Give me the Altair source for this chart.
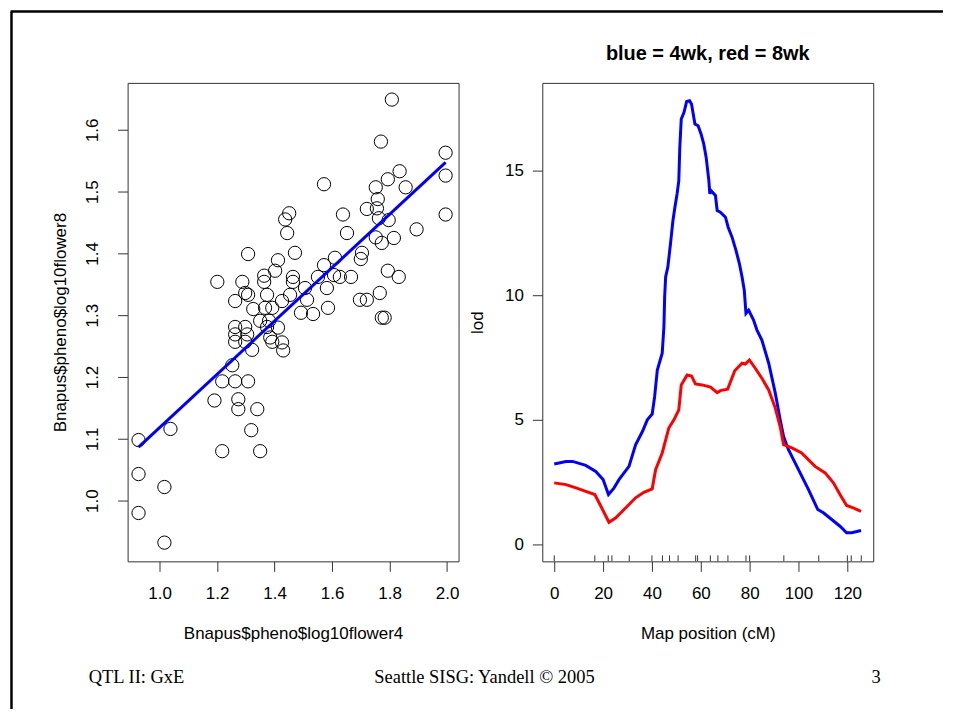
import altair as alt
import pandas as pd

# ---------------- data ----------------
flower4 = [1.808, 1.770, 1.995, 1.995, 1.835, 1.794, 1.752, 1.856, 1.572, 1.759,
           1.638, 1.721, 1.756, 1.797, 1.763, 1.995, 1.894, 1.652, 1.752, 1.815,
           1.773, 1.704, 1.700, 1.610, 1.572, 1.551, 1.607, 1.627, 1.666, 1.794,
           1.832, 1.582, 1.506, 1.513, 1.586, 1.766, 1.697, 1.721, 1.773, 1.783,
           1.492, 1.534,
           1.451, 1.437, 1.444, 1.308, 1.412, 1.471, 1.402, 1.364, 1.364, 1.464,
           1.464, 1.201, 1.288, 1.298, 1.308, 1.374, 1.263, 1.426, 1.454, 1.326,
           1.367, 1.392, 1.350, 1.381,
           1.263, 1.298, 1.374, 1.412, 1.263, 1.305, 1.263, 1.298, 1.322, 1.385,
           1.392, 1.426, 1.430, 1.253, 1.218, 1.263, 1.308, 1.191, 1.274, 1.274,
           1.340, 1.038, 1.319, 0.927, 1.218, 1.350, 0.927, 1.017, 0.927, 1.017]
flower8 = [1.649, 1.581, 1.563, 1.526, 1.533, 1.520, 1.507, 1.507, 1.512, 1.488,
           1.463, 1.472, 1.473, 1.454, 1.457, 1.463, 1.439, 1.433, 1.426, 1.425,
           1.417, 1.401, 1.391, 1.393, 1.381, 1.362, 1.365, 1.362, 1.362, 1.372,
           1.362, 1.344, 1.344, 1.325, 1.312, 1.336, 1.325, 1.325, 1.296, 1.296,
           1.304, 1.302,
           1.465, 1.455, 1.433, 1.399, 1.389, 1.401, 1.372, 1.364, 1.354, 1.362,
           1.354, 1.354, 1.354, 1.336, 1.333, 1.333, 1.323, 1.323, 1.333, 1.310,
           1.312, 1.312, 1.291, 1.291,
           1.281, 1.281, 1.281, 1.280, 1.269, 1.269, 1.257, 1.257, 1.244, 1.264,
           1.257, 1.256, 1.243, 1.219, 1.193, 1.193, 1.193, 1.162, 1.164, 1.148,
           1.148, 1.116, 1.114, 1.098, 1.080, 1.080, 1.043, 1.022, 0.980, 0.932]

pos_4wk = [0, 4.8, 7.5, 12.9, 17.0, 20.0, 22.2, 24.5, 26.5, 30.6,
           33.3, 36.1, 38.1, 40.1, 41.1, 42.2, 44.2, 44.9, 45.2, 45.6,
           46.5, 47.6, 48.6, 49.4, 50.3, 51.0, 51.4, 52.0, 53.1, 54.2,
           55.4, 56.2, 57.6, 58.9, 60.1, 61.2, 62.2, 63.3, 63.7, 64.1,
           66.0, 66.7, 68.0, 70.1, 71.2, 72.8, 74.4, 75.8, 76.9, 77.8,
           78.5, 79.6, 81.6, 83.0, 85.0, 87.8, 90.5, 92.5, 93.9, 95.9,
           100.0, 104.1, 107.9, 110.2, 113.6, 117.0, 119.7, 121.8, 125.6]
lod_4wk = [3.23, 3.33, 3.33, 3.17, 2.93, 2.60, 2.00, 2.27, 2.60, 3.13,
           4.00, 4.53, 5.00, 5.23, 5.93, 7.00, 7.67, 8.73, 9.93, 10.73,
           11.13, 12.07, 13.00, 13.53, 14.07, 14.60, 15.93, 17.07, 17.33, 17.77,
           17.80, 17.67, 16.87, 16.80, 16.47, 16.07, 15.53, 14.60, 14.07, 14.20,
           14.00, 13.40, 13.33, 13.13, 12.73, 12.33, 11.80, 11.27, 10.73, 10.20,
           9.27, 9.40, 9.00, 8.60, 8.20, 7.27, 6.07, 5.00, 4.33, 3.80,
           3.00, 2.20, 1.40, 1.27, 1.00, 0.73, 0.47, 0.47, 0.56]

pos_8wk = [0, 4.8, 8.9, 12.9, 16.6, 19.1, 22.4, 25.2, 29.3, 33.3,
           36.7, 40.1, 41.5, 44.2, 46.9, 49.0, 51.0, 52.0, 54.4, 56.2,
           57.8, 60.5, 64.0, 66.7, 68.0, 71.0, 73.9, 76.9, 78.2, 79.9,
           82.3, 85.0, 87.8, 90.5, 92.5, 93.9, 97.3, 101.3, 106.8, 110.9,
           114.3, 117.0, 119.7, 122.4, 125.6]
lod_8wk = [2.47, 2.40, 2.27, 2.13, 2.00, 1.53, 0.89, 1.07, 1.47, 1.87,
           2.09, 2.23, 3.00, 3.67, 4.67, 5.00, 5.40, 6.40, 6.80, 6.76,
           6.44, 6.40, 6.31, 6.09, 6.17, 6.23, 6.97, 7.27, 7.24, 7.40,
           7.07, 6.67, 6.20, 5.47, 4.73, 4.00, 3.87, 3.67, 3.13, 2.87,
           2.47, 2.00, 1.56, 1.47, 1.33]

markers = [0, 16.6, 22.1, 23.6, 30.7, 40.0, 44.3, 47.2, 50.7, 57.9, 58.7,
           63.9, 67.0, 71.1, 78.5, 80.0, 94.0, 108.3, 120.0, 121.6, 125.7]

x_ticks_left = [1.0, 1.2, 1.4, 1.6, 1.8, 2.0]
y_ticks_left = [1.0, 1.1, 1.2, 1.3, 1.4, 1.5, 1.6]
x_ticks_right = [0, 20, 40, 60, 80, 100, 120]
y_ticks_right = [0, 5, 10, 15]

x_title_left = "Bnapus$pheno$log10flower4"
y_title_left = "Bnapus$pheno$log10flower8"
x_title_right = "Map position (cM)"
y_title_right = "lod"
title_right = "blue = 4wk, red = 8wk"
footer_labels = ["QTL II: GxE", "Seattle SISG: Yandell \u00a9 2005", "3"]

# ---------------- style ----------------
FONT = "Liberation Sans"
SERIF = "Liberation Serif"
LINE = "#333333"
W, H = 332, 480

# ---------------- left panel: scatter ----------------
sc = pd.DataFrame({"f4": flower4, "f8": flower8})
xs_l = alt.Scale(domain=[0.889, 2.040], nice=False, zero=False)
ys_l = alt.Scale(domain=[0.9017, 1.676], nice=False, zero=False)
xax_l = alt.Axis(values=x_ticks_left, format=".1f", title=x_title_left,
                 tickSize=10, labelPadding=14, titleX=W / 2, titleY=72,
                 titleBaseline="middle")
yax_l = alt.Axis(values=y_ticks_left, format=".1f", title=y_title_left,
                 tickSize=10, labelPadding=25, labelAngle=270,
                 labelAlign="center", labelBaseline="middle",
                 titleX=-67, titleY=H / 2, titleBaseline="middle", titleAngle=270)

points = alt.Chart(sc).mark_point(shape="circle", filled=False, size=177,
                                  stroke="black", strokeWidth=1, opacity=1).encode(
    x=alt.X("f4:Q", scale=xs_l, axis=xax_l),
    y=alt.Y("f8:Q", scale=ys_l, axis=yax_l),
)
fit = alt.Chart(sc).transform_regression("f4", "f8").mark_line(
    color="#0000FF", strokeWidth=3).encode(
    x=alt.X("f4:Q", scale=xs_l, axis=xax_l),
    y=alt.Y("f8:Q", scale=ys_l, axis=yax_l),
)

one = pd.DataFrame({"k": [0]})
border_left = alt.Chart(one).mark_rule(color="black", strokeWidth=2.5).encode(
    x=alt.value(-116.5), y=alt.value(-71), y2=alt.value(628))
border_top = alt.Chart(one).mark_rule(color="black", strokeWidth=2.5).encode(
    x=alt.value(-117.5), x2=alt.value(818), y=alt.value(-71.5))

foot_df = [pd.DataFrame({"label": [t]}) for t in footer_labels]
foot_pos = [(-39, "left"), (358, "center"), (751, "center")]
footers = [
    alt.Chart(d).mark_text(font=SERIF, fontSize=18.5, color="black", align=a,
                           baseline="middle").encode(
        text="label:N", x=alt.value(px), y=alt.value(596))
    for d, (px, a) in zip(foot_df, foot_pos)
]

left = alt.layer(points, fit, border_left, border_top, *footers).properties(
    width=W, height=H)

# ---------------- right panel: LOD curves ----------------
d4 = pd.DataFrame({"pos": pos_4wk, "lod": lod_4wk})
d8 = pd.DataFrame({"pos": pos_8wk, "lod": lod_8wk})
dm = pd.DataFrame({"pos": markers})

xs_r = alt.Scale(domain=[-4.9, 130.6], nice=False, zero=False)
ys_r = alt.Scale(domain=[-0.68, 18.52], nice=False, zero=False)
xax_r = alt.Axis(values=x_ticks_right, format="d", title=x_title_right,
                 tickSize=10, labelPadding=14, titleX=W / 2, titleY=72,
                 titleBaseline="middle")
yax_r = alt.Axis(values=y_ticks_right, format="d", title=y_title_right,
                 tickSize=10, labelPadding=9, labelAlign="right",
                 labelBaseline="middle",
                 titleX=-65, titleY=H / 2, titleBaseline="middle", titleAngle=270)

blue = alt.Chart(d4).mark_line(color="#0000FF", strokeWidth=3).encode(
    x=alt.X("pos:Q", scale=xs_r, axis=xax_r),
    y=alt.Y("lod:Q", scale=ys_r, axis=yax_r))
red = alt.Chart(d8).mark_line(color="#FF0000", strokeWidth=3).encode(
    x=alt.X("pos:Q", scale=xs_r, axis=xax_r),
    y=alt.Y("lod:Q", scale=ys_r, axis=yax_r))
rug = alt.Chart(dm).mark_rule(color=LINE, strokeWidth=1).encode(
    x=alt.X("pos:Q", scale=xs_r, axis=xax_r),
    y=alt.value(H - 6), y2=alt.value(H))

right = alt.layer(blue, red, rug).properties(
    width=W, height=H,
    title=alt.TitleParams(text=title_right, font=FONT, fontSize=20,
                          fontWeight="bold", color="black", anchor="middle",
                          frame="group", baseline="alphabetic", offset=3),
)

chart = alt.hconcat(left, right, spacing=84, bounds="flush").properties(
    padding=0
).configure_view(
    stroke=LINE, strokeWidth=1
).configure_axis(
    grid=False, domain=False, tickColor=LINE, tickWidth=1,
    labelColor="black", labelFont=FONT, labelFontSize=17,
    titleColor="black", titleFont=FONT, titleFontSize=17, titleFontWeight="normal",
)

chart.save("out.html", embed_options={"renderer": "svg", "actions": False})
